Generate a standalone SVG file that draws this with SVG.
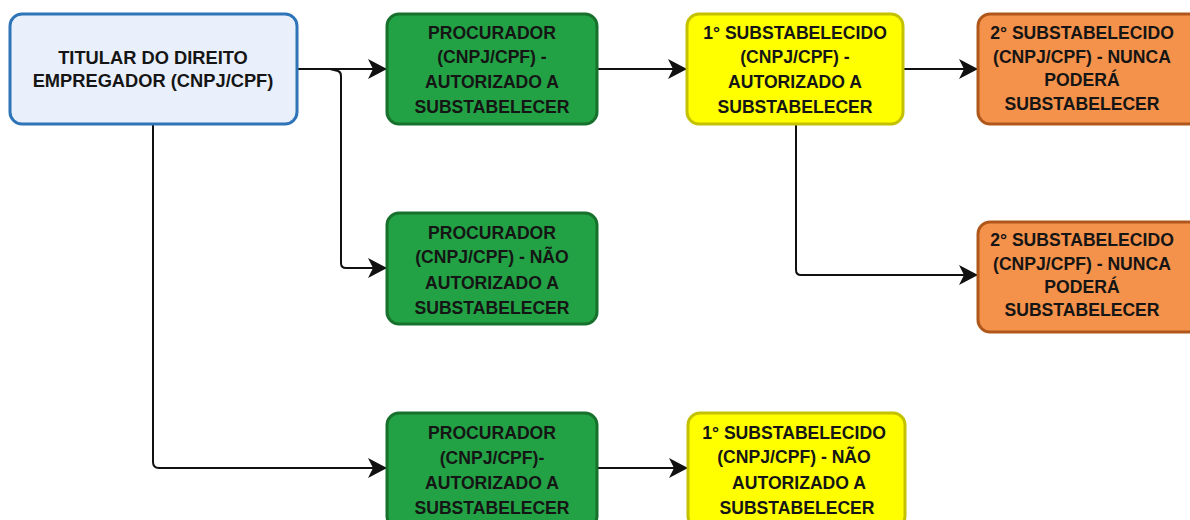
<svg xmlns="http://www.w3.org/2000/svg" width="1190" height="520" viewBox="0 0 1190 520">
<style>
  .t { font-family: "Liberation Sans", Arial, sans-serif; font-weight: bold; font-size: 17.6px; fill: #151515; text-anchor: middle; dominant-baseline: central; }
  .big { font-size: 18.3px; }
  .blue { fill: #eaf0fb; stroke: #2e74b8; stroke-width: 3; }
  .green { fill: #22a244; stroke: #17702c; stroke-width: 3; }
  .yellow { fill: #ffff00; stroke: #c4c200; stroke-width: 3; }
  .orange { fill: #f4914a; stroke: #b0581c; stroke-width: 3; }
  .c { fill: none; stroke: #111; stroke-width: 2; }
</style>
<defs>
  <marker id="arr" viewBox="0 0 19 20" refX="18" refY="10" markerWidth="19" markerHeight="20" markerUnits="userSpaceOnUse" orient="auto">
    <path d="M0,0 L19,10 L0,20 L5,10 Z" fill="#111"/>
  </marker>
</defs>
<rect width="1190" height="520" fill="#ffffff"/>

<g id="connectors">
  <path class="c" d="M297,69 H386" marker-end="url(#arr)"/>
  <path class="c" d="M330,69 L338,71 Q341,72 341,76 V263 Q341,268 346,268 H386" marker-end="url(#arr)"/>
  <path class="c" d="M153,124 V462 Q153,468 159,468 H386" marker-end="url(#arr)"/>
  <path class="c" d="M597,69 H686" marker-end="url(#arr)"/>
  <path class="c" d="M903,69 H977" marker-end="url(#arr)"/>
  <path class="c" d="M796,124 V270 Q796,275 801,275 H977" marker-end="url(#arr)"/>
  <path class="c" d="M597,468 H687" marker-end="url(#arr)"/>
</g>

<g id="titular">
  <rect class="blue" x="10" y="14" width="287" height="110" rx="12"/>
  <text class="t big" x="153" y="57">TITULAR DO DIREITO</text>
  <text class="t big" x="153" y="80">EMPREGADOR (CNPJ/CPF)</text>
</g>

<g id="procurador1">
  <rect class="green" x="387" y="14" width="210" height="110" rx="12"/>
  <text class="t" x="492" y="33">PROCURADOR</text>
  <text class="t" x="492" y="57">(CNPJ/CPF) -</text>
  <text class="t" x="492" y="82">AUTORIZADO A</text>
  <text class="t" x="492" y="107">SUBSTABELECER</text>
</g>

<g id="sub1a">
  <rect class="yellow" x="687" y="14" width="216" height="110" rx="12"/>
  <text class="t" x="795" y="33">1° SUBSTABELECIDO</text>
  <text class="t" x="795" y="57">(CNPJ/CPF) -</text>
  <text class="t" x="795" y="82">AUTORIZADO A</text>
  <text class="t" x="795" y="107">SUBSTABELECER</text>
</g>

<g id="sub2a">
  <rect class="orange" x="978" y="14" width="230" height="110" rx="12"/>
  <text class="t" x="1082" y="33">2° SUBSTABELECIDO</text>
  <text class="t" x="1082" y="57">(CNPJ/CPF) - NUNCA</text>
  <text class="t" x="1082" y="80">PODERÁ</text>
  <text class="t" x="1082" y="104">SUBSTABELECER</text>
</g>

<g id="procurador2">
  <rect class="green" x="387" y="213" width="210" height="111" rx="12"/>
  <text class="t" x="492" y="233">PROCURADOR</text>
  <text class="t" x="492" y="257">(CNPJ/CPF) - NÃO</text>
  <text class="t" x="492" y="283">AUTORIZADO A</text>
  <text class="t" x="492" y="308">SUBSTABELECER</text>
</g>

<g id="sub2b">
  <rect class="orange" x="978" y="222" width="230" height="110" rx="12"/>
  <text class="t" x="1082" y="240">2° SUBSTABELECIDO</text>
  <text class="t" x="1082" y="264">(CNPJ/CPF) - NUNCA</text>
  <text class="t" x="1082" y="287">PODERÁ</text>
  <text class="t" x="1082" y="310">SUBSTABELECER</text>
</g>

<g id="procurador3">
  <rect class="green" x="387" y="413" width="210" height="115" rx="12"/>
  <text class="t" x="492" y="433">PROCURADOR</text>
  <text class="t" x="492" y="458">(CNPJ/CPF)-</text>
  <text class="t" x="492" y="483">AUTORIZADO A</text>
  <text class="t" x="492" y="508">SUBSTABELECER</text>
</g>

<g id="sub1b">
  <rect class="yellow" x="688" y="413" width="217" height="115" rx="12"/>
  <text class="t" x="794" y="433">1° SUBSTABELECIDO</text>
  <text class="t" x="794" y="457">(CNPJ/CPF) - NÃO</text>
  <text class="t" x="799" y="483">AUTORIZADO A</text>
  <text class="t" x="797" y="508">SUBSTABELECER</text>
</g>
</svg>
